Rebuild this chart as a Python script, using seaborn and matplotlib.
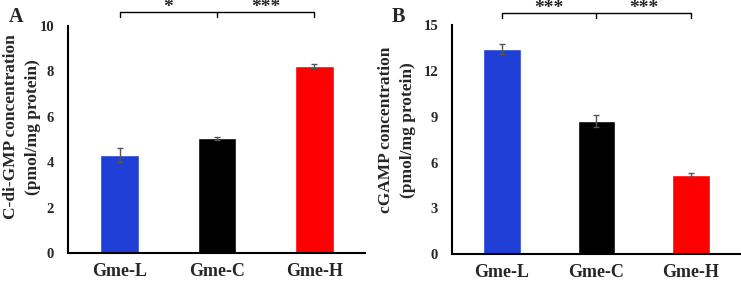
import matplotlib
matplotlib.use('Agg')

import pandas as pd
import matplotlib.pyplot as plt
import seaborn as sns

sns.set_theme(style="white")
plt.rcParams['font.family'] = ['Liberation Serif', 'DejaVu Serif']
plt.rcParams['font.weight'] = 'bold'

# data
groups = ['Gme-L', 'Gme-C', 'Gme-H']
bar_colors = ['#1f3fd6', '#000000', '#ff0000']

cdigmp_mean = [4.33, 5.05, 8.24]
cdigmp_err = [0.30, 0.08, 0.08]
cgamp_mean = [13.43, 8.70, 5.19]
cgamp_err = [0.30, 0.40, 0.12]

panel_a_stars = ['*', '***']
panel_b_stars = ['***', '***']

fig = plt.figure(figsize=(7.41, 2.81), dpi=100)
ax_a = fig.add_axes([0.0918, 0.0986, 0.4008, 0.8099])
ax_b = fig.add_axes([0.610, 0.0950, 0.3887, 0.8160])


def draw_panel(ax, mean, err, ymax, yticks, ylabel, lab_xy, stars, br_y, br_drop, letter, lx):
    df = pd.DataFrame({'group': groups, 'value': mean})
    sns.barplot(data=df, x='group', y='value', hue='group', palette=bar_colors,
                legend=False, width=0.4, ax=ax, errorbar=None, saturation=1)
    ax.errorbar(range(len(groups)), mean, yerr=err, fmt='none', ecolor='#555555',
                elinewidth=1, capsize=2, capthick=1)
    ax.set_xlim(-0.53, 2.52)
    ax.set_ylim(0, ymax)
    ax.set_yticks(yticks)
    ax.set_xlabel('')
    ax.set_ylabel('')
    # y label placed in figure coords (two lines, wide spacing as in the original)
    fig.text(lab_xy[0], lab_xy[1], ylabel, rotation=90, ha='center', va='center',
             fontsize=12.5, fontweight='bold', linespacing=1.5, multialignment='center')
    for s in ['top', 'right']:
        ax.spines[s].set_visible(False)
    for s in ['left', 'bottom']:
        ax.spines[s].set_color('black')
        ax.spines[s].set_linewidth(1.5)
    ax.tick_params(axis='y', direction='out', length=7, width=1.5, labelsize=10.5, pad=3, color='black')
    ax.tick_params(axis='x', direction='out', length=4, width=1.5, labelsize=13, pad=3, color='black')
    for lab in ax.get_xticklabels() + ax.get_yticklabels():
        lab.set_fontweight('bold')

    # significance bracket
    ax.plot([0, 0, 2, 2], [br_y - br_drop, br_y, br_y, br_y - br_drop],
            color='black', lw=1, clip_on=False)
    ax.plot([1, 1], [br_y, br_y - br_drop], color='black', lw=1, clip_on=False)
    ax.text(0.5, br_y, stars[0], ha='center', va='baseline', fontsize=14, clip_on=False)
    ax.text(1.5, br_y, stars[1], ha='center', va='baseline', fontsize=14, clip_on=False)

    fig.text(lx, 0.941, letter, fontsize=14.5, fontweight='bold', ha='left', va='center')


draw_panel(ax_a, cdigmp_mean, cdigmp_err, 10, [0, 2, 4, 6, 8, 10],
           'C-di-GMP concentration\n(pmol/mg protein)', (22 / 741, 1 - 127 / 281),
           panel_a_stars, 10.59, 0.21, 'A', 0.012)
draw_panel(ax_b, cgamp_mean, cgamp_err, 15, [0, 3, 6, 9, 12, 15],
           'cGAMP concentration\n(pmol/mg protein)', (397 / 741, 1 - 130 / 281),
           panel_b_stars, 15.77, 0.28, 'B', 0.529)

fig.savefig('out.png', dpi=100)
